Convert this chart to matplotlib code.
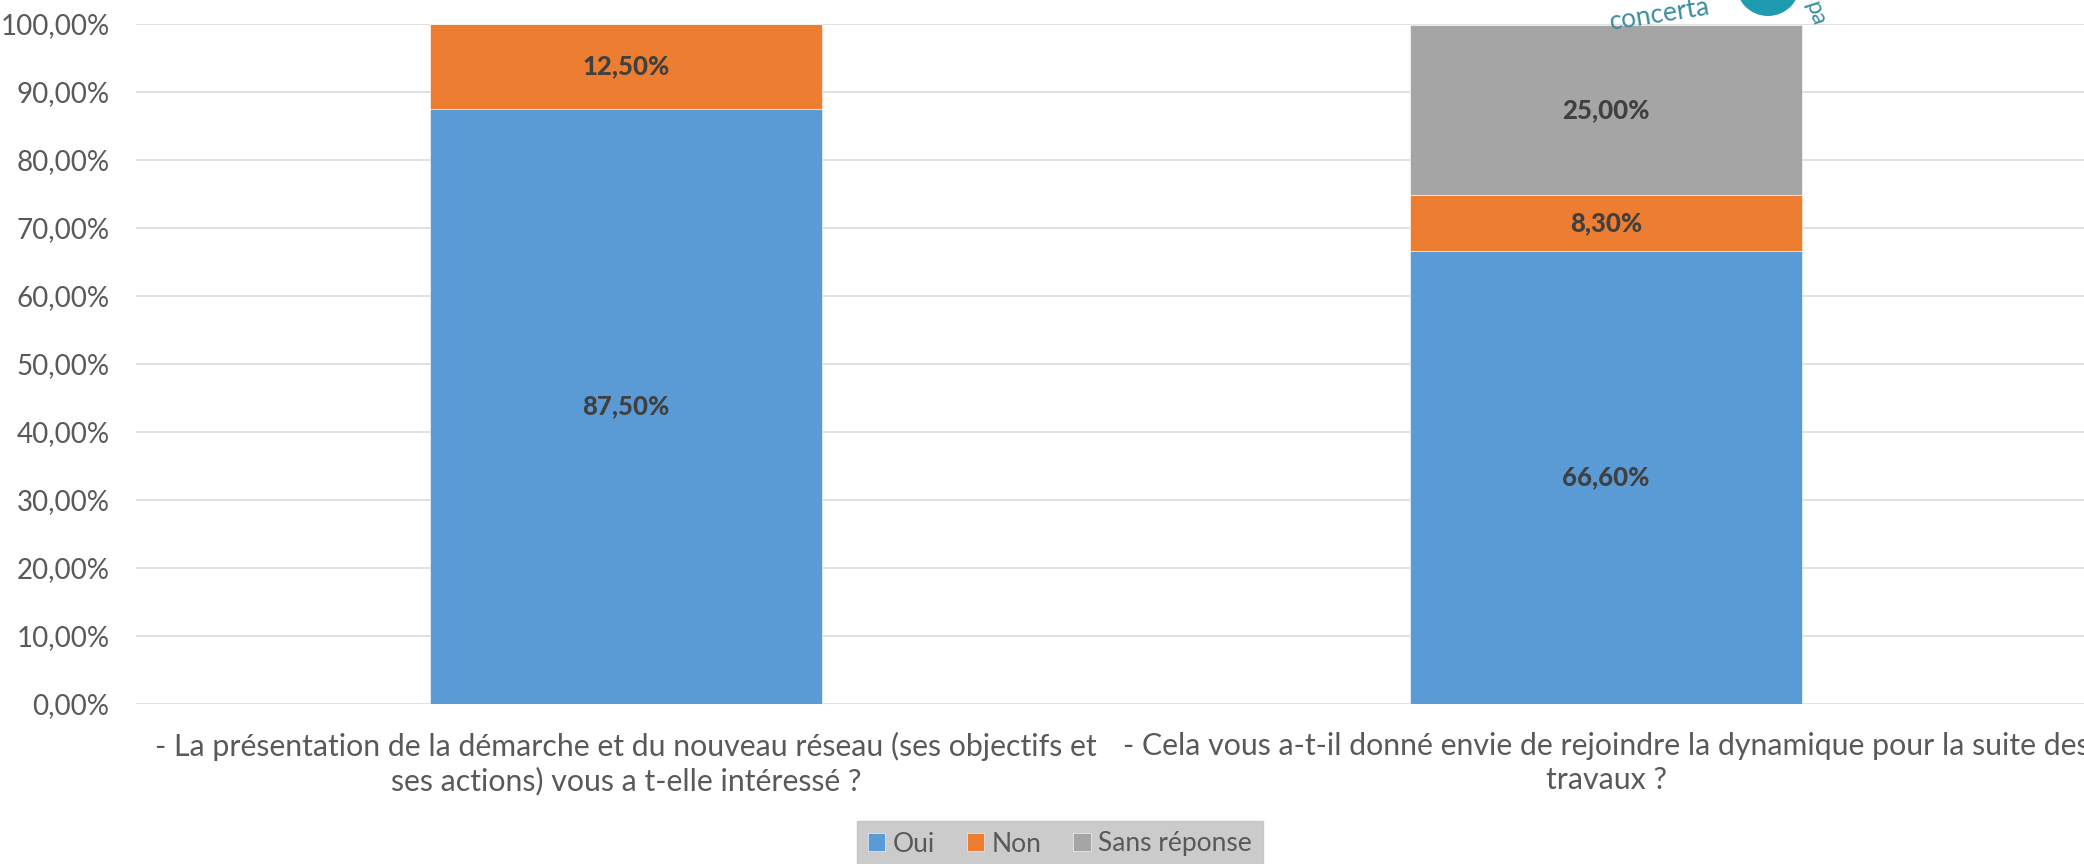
import matplotlib.pyplot as plt
from matplotlib.patches import Ellipse
from matplotlib.ticker import FuncFormatter

plt.rcParams["font.family"] = ["Lato", "DejaVu Sans"]

# survey answers, in percent
questions = [
    "- La présentation de la démarche et du nouveau réseau (ses objectifs et\nses actions) vous a t-elle intéressé ?",
    "- Cela vous a-t-il donné envie de rejoindre la dynamique pour la suite des\ntravaux ?",
]
oui = [87.5, 66.6]
non = [12.5, 8.3]
sans_reponse = [0.0, 25.0]

series = [
    ("Oui", oui, "#5B9BD5"),
    ("Non", non, "#ED7D31"),
    ("Sans réponse", sans_reponse, "#A5A5A5"),
]

W, H = 2084, 864
fig = plt.figure(figsize=(W / 100, H / 100), dpi=100)
ax = fig.add_axes([136 / W, 160 / H, 1960 / W, 680 / H])

xs = list(range(len(questions)))
bottom = [0.0] * len(questions)
for name, vals, color in series:
    ax.bar(xs, vals, 0.4, bottom=bottom, color=color, label=name,
           edgecolor="white", linewidth=0.4, zorder=3)
    for x, v, b in zip(xs, vals, bottom):
        if v > 0:
            ax.text(x, b + v / 2, f"{v:.2f}%".replace(".", ","),
                    ha="center", va="center", fontsize=18.5, fontweight="black",
                    color="#404040", zorder=4)
    bottom = [b + v for b, v in zip(bottom, vals)]

ax.set_xlim(-0.5, 1.5)
ax.set_ylim(0, 100)
ax.set_yticks(range(0, 101, 10))
ax.yaxis.set_major_formatter(FuncFormatter(lambda v, _: f"{v:.2f}%".replace(".", ",")))
ax.set_xticks(xs)
ax.set_xticklabels(questions, fontsize=21.8, color="#595959", linespacing=1.25)
ax.tick_params(axis="y", length=0, pad=19, labelsize=20, labelcolor="#595959")
ax.tick_params(axis="x", length=0, pad=20)
ax.grid(axis="y", color="#D9D9D9", linewidth=1.1, zorder=0)
for s in ax.spines.values():
    s.set_visible(False)

leg = fig.legend(loc="center", bbox_to_anchor=(1060 / W, 20 / H), ncol=3,
                 frameon=True, fancybox=False, fontsize=19, handlelength=0.65,
                 handleheight=0.65, handletextpad=0.3, columnspacing=1.2,
                 borderpad=0.4)
leg.get_frame().set_facecolor("#BFBFBF")
leg.get_frame().set_edgecolor("#BFBFBF")
for t in leg.get_texts():
    t.set_color("#595959")

# partial logo in the top right corner
fig.patches.append(Ellipse((1768 / W, 1 + 16 / H), 64 / W, 64 / H,
                           transform=fig.transFigure,
                           facecolor="#1F9BB0", edgecolor="none"))
fig.text(1660 / W, 1 - 15 / H, "concerta", fontsize=19, color="#3B8E9E",
         rotation=9, ha="center", va="center")
fig.text(1815 / W, 1 - 14 / H, "pa", fontsize=17, color="#3B8E9E",
         rotation=-72, ha="center", va="center")

fig.savefig("out.png", dpi=100)
